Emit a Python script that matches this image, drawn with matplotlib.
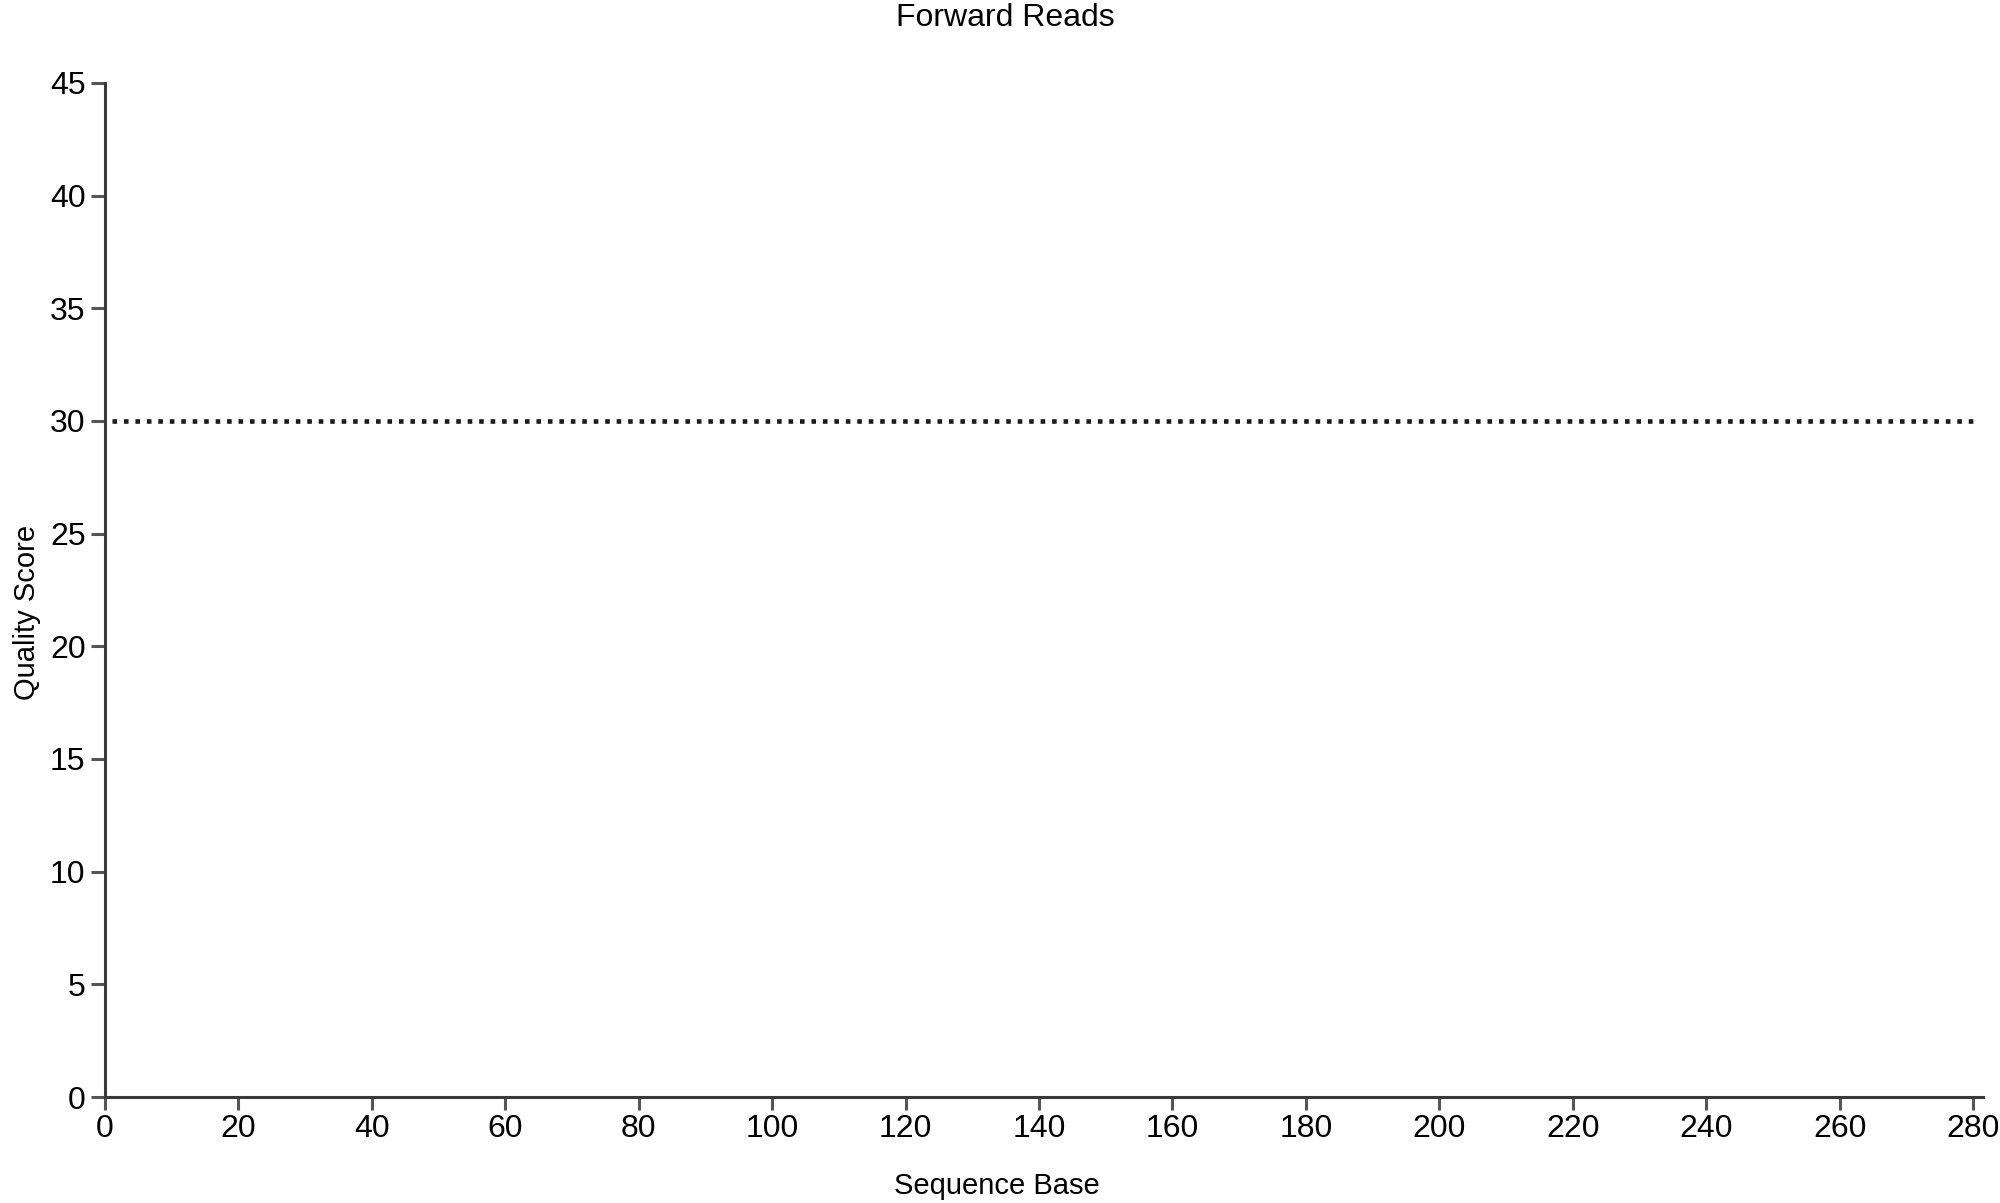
import matplotlib.pyplot as plt

# quality score per sequence base (forward reads)
bases = [1, 280]
scores = [30, 30]
x_ticks = list(range(0, 281, 20))
y_ticks = list(range(0, 46, 5))

plt.rcParams['font.family'] = ['Liberation Sans', 'DejaVu Sans']

fig = plt.figure(figsize=(20, 12.03), dpi=100)
ax = fig.add_axes([0.0525, 0.0881, 0.939, 0.843])

ax.plot(bases, scores, color='#1a1a1a', linewidth=3.3, linestyle=(0, (1, 1.5)))

ax.set_xlim(0, 281.5)
ax.set_ylim(0, 45)
ax.set_xticks(x_ticks)
ax.set_yticks(y_ticks)

for side in ['top', 'right']:
    ax.spines[side].set_visible(False)
for side in ['left', 'bottom']:
    ax.spines[side].set_color('#3a3a3a')
    ax.spines[side].set_linewidth(2.2)

ax.tick_params(axis='both', direction='out', length=10, width=2.2,
               color='#555555', labelsize=23, pad=4)
ax.tick_params(axis='x', length=9, pad=3)

fig.text(0.5025, 1 - 18 / 1203, 'Forward Reads', ha='center', va='center', fontsize=23)
fig.text(0.4985, 1 - 1186 / 1203, 'Sequence Base', ha='center', va='center', fontsize=21)
fig.text(0.0135, 1 - 612 / 1203, 'Quality Score', ha='center', va='center',
         rotation=90, fontsize=21)

plt.savefig('out.png')
